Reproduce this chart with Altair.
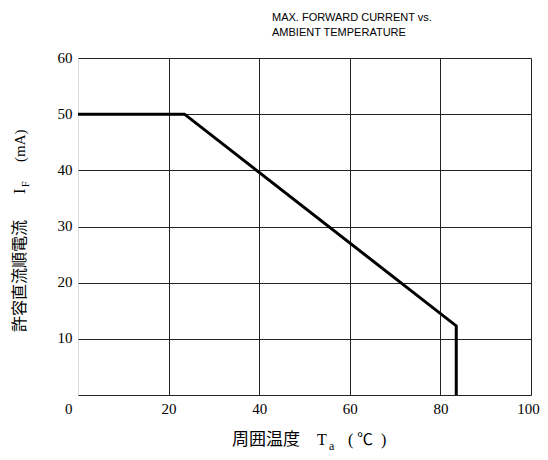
import altair as alt
import pandas as pd

# Data
ta = [0, 23.5, 83.5, 83.5]
i_f = [50, 50, 12.3, 0]
x_ticks = [20, 40, 60, 80, 100]
y_ticks = [0, 10, 20, 30, 40, 50, 60]
title_lines = ["MAX. FORWARD CURRENT vs.", "AMBIENT TEMPERATURE"]

df = pd.DataFrame({"Ta": ta, "IF": i_f})

SERIF = "Liberation Serif"
CJK = "Noto Sans CJK JP"

line = alt.Chart(df).mark_line(color="black", strokeWidth=3, strokeJoin="miter").encode(
    x=alt.X("Ta:Q", scale=alt.Scale(domain=[0, 100], nice=False),
            axis=alt.Axis(values=x_ticks, grid=True, gridColor="#222", gridWidth=1,
                          domain=False, ticks=False, labelFont=SERIF, labelFontSize=15,
                          labelColor="black", labelPadding=6, title=None, labelFlush=False,
                          labelOffset={"condition": {"test": "datum.value == 100", "value": -3}, "value": 0})),
    y=alt.Y("IF:Q", scale=alt.Scale(domain=[0, 60], nice=False),
            axis=alt.Axis(values=y_ticks, grid=True, gridColor="#222", gridWidth=1,
                          domain=False, ticks=False, labelFont=SERIF, labelFontSize=15,
                          labelColor="black", labelPadding=6, title=None,
                          labelOffset={"condition": {"test": "datum.value == 0", "value": 13}, "value": -1})),
    order=alt.Order("row:Q"),
).transform_window(row="row_number()")


def txt(s, x, y, font, size, angle=0, align="left", baseline="middle"):
    kw = dict(align=align, baseline=baseline, font=font, fontSize=size, color="black")
    if angle:
        kw["angle"] = angle
    return alt.Chart(pd.DataFrame({"t": [s]})).mark_text(**kw).encode(
        text="t:N", x=alt.value(x), y=alt.value(y))


# y-axis title pieces (rotated)
ytitle = [
    txt("許容直流順電流", -58, 274, CJK, 16, angle=270),
    txt("I", -58, 136, SERIF, 16, angle=270),
    txt("F", -52, 129, SERIF, 10, angle=270),
    txt("(mA)", -58, 104, SERIF, 15, angle=270),
]
# x-axis title pieces
xtitle = [
    txt("周囲温度", 154, 382, CJK, 17),
    txt("T", 239, 382, SERIF, 16),
    txt("a", 251, 388, SERIF, 12),
    txt("(", 270, 382, SERIF, 16),
    txt("℃", 279, 382, CJK, 16),
    txt(")", 303, 382, SERIF, 16),
]

chart = alt.layer(line, *ytitle, *xtitle).properties(
    width=453, height=337,
    autosize=alt.AutoSizeParams(type="none"),
    padding={"left": 70, "top": 50, "right": 9, "bottom": 57},
    title=alt.TitleParams(text=title_lines, anchor="start", frame="group", dx=194, offset=12,
                          font="Liberation Sans", fontSize=11,
                          fontWeight="normal", color="black", lineHeight=15),
).configure_view(stroke="black", strokeWidth=2).configure(background="white")

chart.save("out.html", embed_options={"renderer": "svg", "actions": False})
